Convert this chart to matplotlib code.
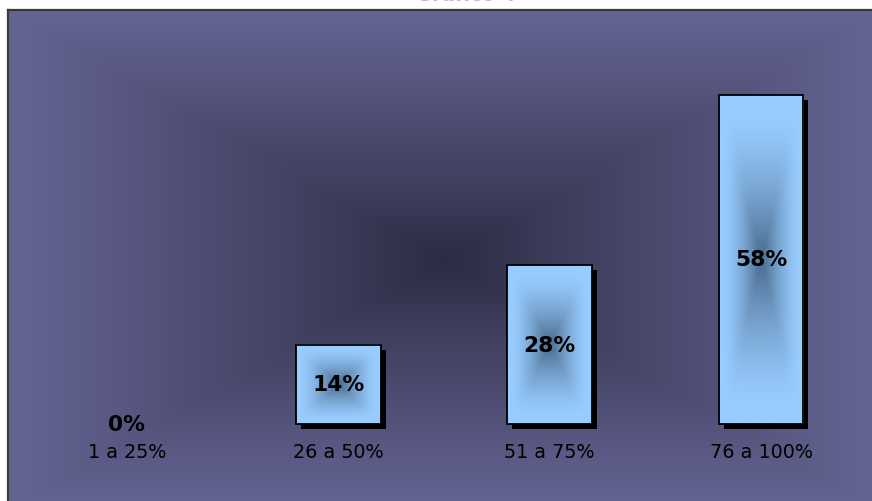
import numpy as np
import matplotlib
matplotlib.use("Agg")
import matplotlib.pyplot as plt
from matplotlib import patheffects

categories = ["1 a 25%", "26 a 50%", "51 a 75%", "76 a 100%"]
values = [0, 14, 28, 58]
value_labels = ["0%", "14%", "28%", "58%"]
title = "Gráfico 4"

plt.rcParams["font.family"] = ["DejaVu Sans"]

W, H = 872, 502
fig = plt.figure(figsize=(W / 100, H / 100), dpi=100)
fig.patch.set_facecolor("white")

# plot area: left 8px, top 11px, runs past the right and bottom edges
left_px, right_px, top_px, bottom_px = 8, 880, 11, 510
ax = fig.add_axes([left_px / W, 1 - bottom_px / H,
                   (right_px - left_px) / W, (bottom_px - top_px) / H])
ax.set_xlim(-0.563, 3.563)
ax.set_ylim(-15, 73)
ax.set_axis_off()

# rectangular "from centre" gradient for the plot area
edge_c = np.array([101, 101, 149]) / 255
mid_c = np.array([44, 43, 66]) / 255
ny, nx = 400, 700
yy, xx = np.mgrid[-1:1:ny * 1j, -1:1:nx * 1j]
t = np.maximum(np.abs(xx), np.abs(yy))
t = np.clip(t, 0, 1) ** 0.9
bg = mid_c + (edge_c - mid_c) * t[..., None]
ax.imshow(bg, extent=(*ax.get_xlim(), *ax.get_ylim()), aspect="auto",
          zorder=0, interpolation="bilinear")

# left and top border of the plot area
ax.plot([0, 0], [0, 1], transform=ax.transAxes, color="#3a3a3a", lw=1.6,
        clip_on=False, zorder=5)
ax.plot([0, 1], [1, 1], transform=ax.transAxes, color="#3a3a3a", lw=1.6,
        clip_on=False, zorder=5)

x = np.arange(len(categories))
bw = 0.40
shadow = [patheffects.SimplePatchShadow(offset=(3.6, -3.6), shadow_rgbFace="black",
                                        alpha=1.0), patheffects.Normal()]
bars = ax.bar(x, values, width=bw, color="#99ccff", edgecolor="none", zorder=2)
for b, v in zip(bars, values):
    if v > 0:
        b.set_path_effects(shadow)

# darker rectangular gradient towards the middle of each bar
light = np.array([153, 204, 255]) / 255
dark = np.array([72, 106, 140]) / 255
for b, v in zip(bars, values):
    if v <= 0:
        continue
    x0, w, h = b.get_x(), b.get_width(), b.get_height()
    gy, gx = np.mgrid[-1:1:240j, -1:1:140j]
    tt = (np.abs(gx) ** 8 + np.abs(gy) ** 8) ** (1 / 8)
    f = np.clip(1 - tt / 0.92, 0, 1) ** 1.5
    img = light - (light - dark) * f[..., None]
    ax.imshow(img, extent=(x0, x0 + w, 0, h), aspect="auto", zorder=3,
              interpolation="bilinear")
ax.set_xlim(-0.563, 3.563)
ax.set_ylim(-15, 73)

ax.bar(x, [v if v > 0 else np.nan for v in values], width=bw, facecolor="none",
       edgecolor="black", linewidth=1.3, zorder=4)

for xi, v, lab in zip(x, values, value_labels):
    ax.text(xi, v / 2, lab, ha="center", va="center", fontsize=15.7,
            fontweight="bold", color="black", zorder=6)

for xi, cat in zip(x, categories):
    ax.text(xi, -4.94, cat, ha="center", va="center", fontsize=13.8,
            color="black", zorder=6)

# title sits above the figure, only its lower edge shows
fig.text(466 / W, 1 - 1.4 / H, title, ha="center", va="baseline", fontsize=14,
         fontweight="bold", color="#bcbcbc")

fig.savefig("out.png", dpi=100)
